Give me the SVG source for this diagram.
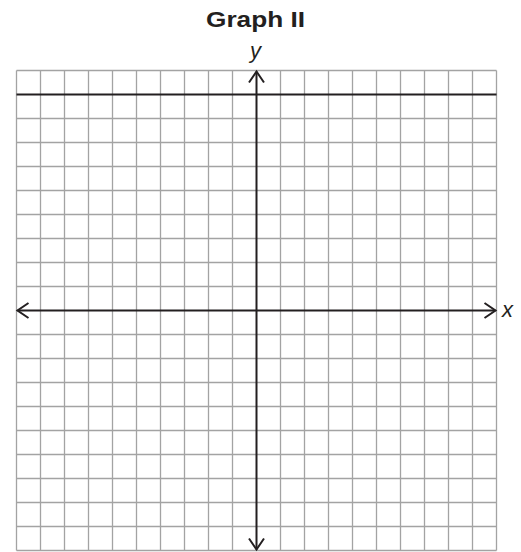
<svg xmlns="http://www.w3.org/2000/svg" width="521" height="552" viewBox="0 0 521 552">
<style>
.grid line{stroke:#a3a3a3;stroke-width:1.3}
.axis{stroke:#231f20;stroke-width:2;fill:none}
.head{stroke:#231f20;stroke-width:2;fill:none;stroke-linecap:butt;stroke-linejoin:miter}
.lbl{font-family:"Liberation Sans",Arial,sans-serif;font-style:italic;font-size:22px;fill:#231f20}
.title{font-family:"Liberation Sans",Arial,sans-serif;font-weight:bold;font-size:22px;fill:#231f20}
</style>
<rect width="521" height="552" fill="#fff"/>
<text class="title" x="206" y="27" textLength="99" lengthAdjust="spacingAndGlyphs">Graph II</text>
<g id="grid" class="grid">
<line x1="16.5" y1="70.5" x2="16.5" y2="550.5"/><line x1="40.5" y1="70.5" x2="40.5" y2="550.5"/><line x1="64.5" y1="70.5" x2="64.5" y2="550.5"/><line x1="88.5" y1="70.5" x2="88.5" y2="550.5"/><line x1="112.5" y1="70.5" x2="112.5" y2="550.5"/><line x1="136.5" y1="70.5" x2="136.5" y2="550.5"/><line x1="160.5" y1="70.5" x2="160.5" y2="550.5"/><line x1="184.5" y1="70.5" x2="184.5" y2="550.5"/><line x1="208.5" y1="70.5" x2="208.5" y2="550.5"/><line x1="232.5" y1="70.5" x2="232.5" y2="550.5"/><line x1="280.5" y1="70.5" x2="280.5" y2="550.5"/><line x1="304.5" y1="70.5" x2="304.5" y2="550.5"/><line x1="328.5" y1="70.5" x2="328.5" y2="550.5"/><line x1="352.5" y1="70.5" x2="352.5" y2="550.5"/><line x1="376.5" y1="70.5" x2="376.5" y2="550.5"/><line x1="400.5" y1="70.5" x2="400.5" y2="550.5"/><line x1="424.5" y1="70.5" x2="424.5" y2="550.5"/><line x1="448.5" y1="70.5" x2="448.5" y2="550.5"/><line x1="472.5" y1="70.5" x2="472.5" y2="550.5"/><line x1="496.5" y1="70.5" x2="496.5" y2="550.5"/>
<line x1="16.5" y1="70.5" x2="496.5" y2="70.5"/><line x1="16.5" y1="118.5" x2="496.5" y2="118.5"/><line x1="16.5" y1="142.5" x2="496.5" y2="142.5"/><line x1="16.5" y1="166.5" x2="496.5" y2="166.5"/><line x1="16.5" y1="190.5" x2="496.5" y2="190.5"/><line x1="16.5" y1="214.5" x2="496.5" y2="214.5"/><line x1="16.5" y1="238.5" x2="496.5" y2="238.5"/><line x1="16.5" y1="262.5" x2="496.5" y2="262.5"/><line x1="16.5" y1="286.5" x2="496.5" y2="286.5"/><line x1="16.5" y1="334.5" x2="496.5" y2="334.5"/><line x1="16.5" y1="358.5" x2="496.5" y2="358.5"/><line x1="16.5" y1="382.5" x2="496.5" y2="382.5"/><line x1="16.5" y1="406.5" x2="496.5" y2="406.5"/><line x1="16.5" y1="430.5" x2="496.5" y2="430.5"/><line x1="16.5" y1="454.5" x2="496.5" y2="454.5"/><line x1="16.5" y1="478.5" x2="496.5" y2="478.5"/><line x1="16.5" y1="502.5" x2="496.5" y2="502.5"/><line x1="16.5" y1="526.5" x2="496.5" y2="526.5"/><line x1="16.5" y1="550.5" x2="496.5" y2="550.5"/>
</g>
<g id="axes">
<line class="axis" x1="17.5" y1="310.5" x2="495.5" y2="310.5"/>
<line class="axis" x1="256.5" y1="71.5" x2="256.5" y2="549.5"/>
<polyline class="head" points="28.5,303 17.5,310.5 28.5,318"/>
<polyline class="head" points="484.5,303 495.5,310.5 484.5,318"/>
<polyline class="head" points="249,82.5 256.5,71.5 264,82.5"/>
<polyline class="head" points="249,538.5 256.5,549.5 264,538.5"/>
</g>
<g id="line">
<line class="axis" x1="16.5" y1="94.5" x2="496.5" y2="94.5"/>
</g>
<text class="lbl" x="250" y="58">y</text>
<text class="lbl" x="502" y="317">x</text>
</svg>
